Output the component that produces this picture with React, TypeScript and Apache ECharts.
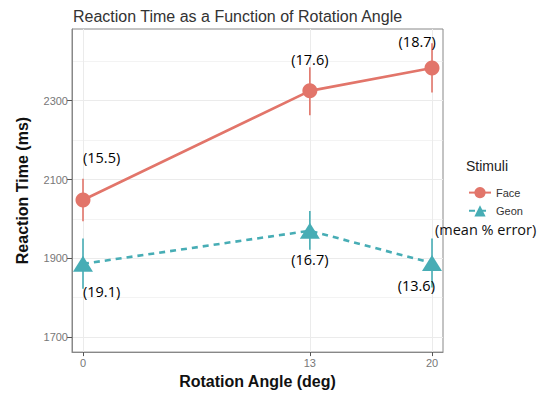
import React, { useEffect, useRef } from "react";
import * as echarts from "echarts";

const xTicks = [0, 13, 20];
const yTicks = [1700, 1900, 2100, 2300];
const yMinor = [1800, 2000, 2200, 2400];
const angles = [0, 13, 20];
const faceMean = [2048, 2325, 2383];
const faceLow = [1994, 2263, 2321];
const faceHigh = [2102, 2385, 2446];
const geonMean = [1886, 1970, 1888];
const geonLow = [1823, 1922, 1826];
const geonHigh = [1950, 2020, 1950];
const noteX = [0, 13, 19.15, 0, 13, 19.1];
const noteY = [2156, 2404, 2450, 1817, 1897, 1830];
const noteText = ["(15.5)", "(17.6)", "(18.7)", "(19.1)", "(16.7)", "(13.6)"];
const noteAlign = ["left", "center", "center", "left", "center", "center"];

const FACE = "#E2756A";
const GEON = "#47ADB5";
const FONT = "Liberation Sans, Arial, sans-serif";

export default function App() {
  const ref = useRef<HTMLDivElement>(null);
  useEffect(() => {
    const chart = echarts.init(ref.current!, null, { renderer: "svg" });
    const errSeries = (name: string, low: number[], high: number[], color: string) => ({
      type: "custom",
      name: name + "_err",
      z: 1,
      silent: true,
      data: angles.map((a, i) => [a, low[i], high[i]]),
      renderItem: (params: any, api: any) => {
        const p1 = api.coord([api.value(0), api.value(1)]);
        const p2 = api.coord([api.value(0), api.value(2)]);
        return {
          type: "line",
          shape: { x1: p1[0], y1: p1[1], x2: p2[0], y2: p2[1] },
          style: { stroke: color, lineWidth: 1.6 },
        };
      },
    });
    const gridLines = [
      ...yTicks.map((v) => ({ yAxis: v, lineStyle: { width: 1 } })),
      ...yMinor.map((v) => ({ yAxis: v, lineStyle: { width: 0.6 } })),
      ...xTicks.map((v) => ({ xAxis: v, lineStyle: { width: 1 } })),
    ];
    chart.setOption({
      animation: false,
      backgroundColor: "#ffffff",
      title: {
        text: "Reaction Time as a Function of Rotation Angle",
        left: 68,
        top: 3,
        textStyle: { fontFamily: FONT, fontSize: 16, fontWeight: "normal", color: "#333" },
      },
      grid: {
        left: 72,
        right: 99,
        top: 29,
        bottom: 41,
        show: true,
        borderColor: "#888",
        borderWidth: 1,
      },
      legend: {
        orient: "vertical",
        left: 463,
        top: 182,
        itemWidth: 22,
        itemHeight: 14,
        itemGap: 7,
        textStyle: { fontFamily: FONT, fontSize: 11, color: "#333" },
        data: ["Face", "Geon"],
      },
      xAxis: {
        type: "value",
        min: -0.63,
        max: 20.63,
        name: "Rotation Angle (deg)",
        nameLocation: "middle",
        nameGap: 20,
        nameTextStyle: { fontFamily: FONT, fontSize: 16, fontWeight: "bold", color: "#111" },
        axisLine: { show: true, onZero: false, lineStyle: { color: "#888" } },
        axisTick: { show: true, customValues: xTicks, length: 4, lineStyle: { color: "#555" } },
        axisLabel: {
          customValues: xTicks,
          formatter: (v: number) => String(v),
          fontFamily: FONT,
          fontSize: 11,
          color: "#777",
          margin: 5,
        },
        splitLine: { show: false },
      },
      yAxis: {
        type: "value",
        min: 1662,
        max: 2482,
        name: "Reaction Time (ms)",
        nameLocation: "middle",
        nameGap: 42,
        nameTextStyle: { fontFamily: FONT, fontSize: 16, fontWeight: "bold", color: "#111" },
        axisLine: { show: true, onZero: false, lineStyle: { color: "#888" } },
        axisTick: { show: true, customValues: yTicks, length: 5, lineStyle: { color: "#555" } },
        axisLabel: {
          customValues: yTicks,
          formatter: (v: number) => String(v),
          fontFamily: FONT,
          fontSize: 11,
          color: "#777",
          margin: 4,
        },
        splitLine: { show: false },
      },
      graphic: [
        {
          type: "text",
          left: 466,
          top: 159,
          style: { text: "Stimuli", fontFamily: FONT, fontSize: 14, fill: "#222" },
        },
        {
          type: "text",
          left: 435,
          top: 222,
          style: { text: "(mean % error)", fontFamily: "Open Sans, sans-serif", fontSize: 14.5, fill: "#111" },
        },
      ],
      series: [
        errSeries("Face", faceLow, faceHigh, FACE),
        errSeries("Geon", geonLow, geonHigh, GEON),
        {
          type: "line",
          name: "Face",
          z: 3,
          data: angles.map((a, i) => [a, faceMean[i]]),
          symbol: "circle",
          symbolSize: 15,
          itemStyle: { color: FACE },
          lineStyle: { color: FACE, width: 2.6 },
          markLine: {
            silent: true,
            symbol: "none",
            label: { show: false },
            lineStyle: { color: "#ebebeb", type: "solid", width: 1 },
            z: 0,
            data: gridLines,
          },
        },
        {
          type: "line",
          name: "Geon",
          z: 3,
          data: angles.map((a, i) => [a, geonMean[i]]),
          symbol: "triangle",
          symbolSize: [20, 16],
          itemStyle: { color: GEON },
          lineStyle: { color: GEON, width: 2.6, type: [6, 5] },
        },
        {
          type: "scatter",
          name: "notes",
          silent: true,
          z: 5,
          symbolSize: 0,
          itemStyle: { opacity: 1 },
          data: noteX.map((x, i) => ({
            value: [x, noteY[i]],
            label: {
              show: true,
              position: "inside",
              align: noteAlign[i],
              verticalAlign: "middle",
              formatter: noteText[i],
              fontFamily: "Open Sans, sans-serif",
              fontSize: 14.5,
              color: "#000",
            },
          })),
        },
      ],
    });
    return () => chart.dispose();
  }, []);
  return <div ref={ref} style={{ width: 542, height: 394, position: "absolute", left: 0, top: 0 }} />;
}
